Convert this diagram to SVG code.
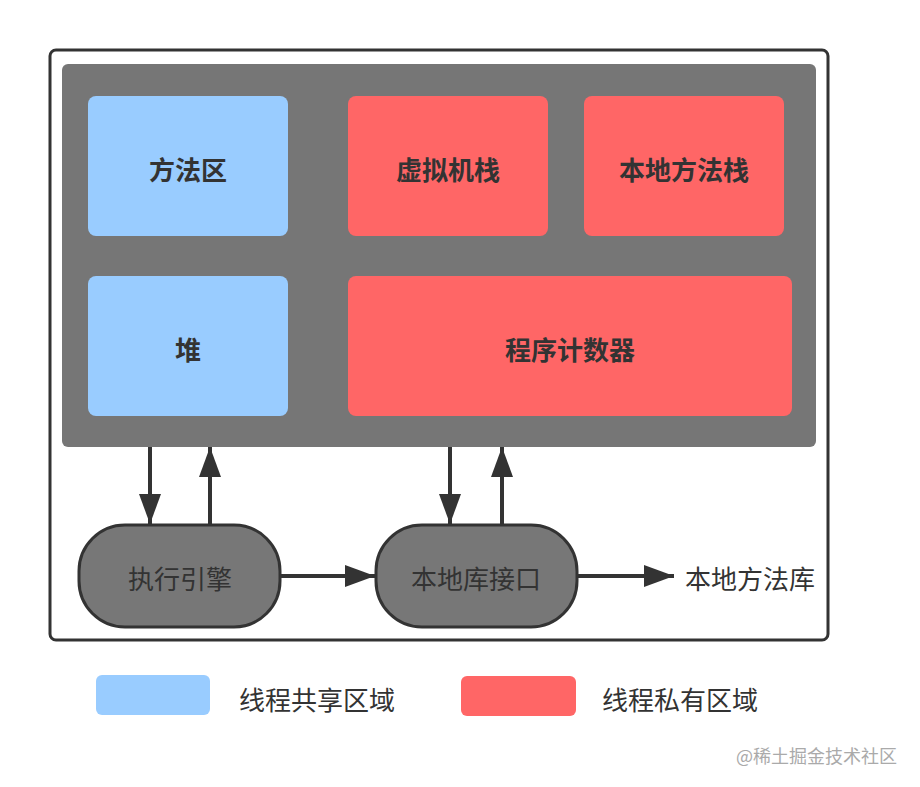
<svg xmlns="http://www.w3.org/2000/svg" width="920" height="787" viewBox="0 0 920 787">
<style>
.blue{fill:#99CCFF;}
.red{fill:#FF6666;}
.bt{font-family:"Noto Sans CJK SC","Noto Sans",sans-serif;font-weight:bold;font-size:26px;fill:#333;text-anchor:middle;dominant-baseline:central;}
.nt{font-family:"Noto Sans CJK SC","Noto Sans",sans-serif;font-size:26px;fill:#333;dominant-baseline:central;}
.pill{fill:#777;stroke:#333;stroke-width:3;}
.ln{stroke:#333;stroke-width:4;fill:none;}
</style>
<defs>
<marker id="a" viewBox="0 0 30 22" refX="30" refY="11" markerWidth="30" markerHeight="22" markerUnits="userSpaceOnUse" orient="auto">
<path d="M0,0 L30,11 L0,22 Z" fill="#333"/>
</marker>
</defs>
<rect width="920" height="787" fill="#fff"/>
<g id="frame">
<rect x="50" y="50" width="778" height="590" rx="6" fill="#fff" stroke="#333" stroke-width="3"/>
<rect x="62" y="64" width="754" height="383" rx="6" fill="#767676"/>
</g>
<g id="method-area"><rect class="blue" x="88" y="96" width="200" height="140" rx="8"/><text class="bt" x="188" y="168">方法区</text></g>
<g id="vm-stack"><rect class="red" x="348" y="96" width="200" height="140" rx="8"/><text class="bt" x="448" y="168">虚拟机栈</text></g>
<g id="native-stack"><rect class="red" x="584" y="96" width="200" height="140" rx="8"/><text class="bt" x="684" y="168">本地方法栈</text></g>
<g id="heap"><rect class="blue" x="88" y="276" width="200" height="140" rx="8"/><text class="bt" x="188" y="348">堆</text></g>
<g id="pc"><rect class="red" x="348" y="276" width="444" height="140" rx="8"/><text class="bt" x="570" y="348">程序计数器</text></g>
<g id="engine"><rect class="pill" x="79" y="525" width="201" height="102" rx="46"/><text class="nt" x="180" y="577" text-anchor="middle">执行引擎</text></g>
<g id="native-if"><rect class="pill" x="376" y="525" width="201" height="102" rx="46"/><text class="nt" x="476" y="577" text-anchor="middle">本地库接口</text></g>
<g id="native-lib"><text class="nt" x="685" y="577">本地方法库</text></g>
<g id="connectors">
<line class="ln" x1="150" y1="447" x2="150" y2="524" marker-end="url(#a)"/>
<line class="ln" x1="210" y1="524" x2="210" y2="447" marker-end="url(#a)"/>
<line class="ln" x1="450" y1="447" x2="450" y2="524" marker-end="url(#a)"/>
<line class="ln" x1="502" y1="524" x2="502" y2="447" marker-end="url(#a)"/>
<line class="ln" x1="280" y1="576" x2="375" y2="576" marker-end="url(#a)"/>
<line class="ln" x1="577" y1="576" x2="674" y2="576" marker-end="url(#a)"/>
</g>
<g id="legend">
<rect class="blue" x="96" y="675" width="114" height="40" rx="6"/>
<text class="nt" x="239" y="698">线程共享区域</text>
<rect class="red" x="461" y="676" width="115" height="40" rx="6"/>
<text class="nt" x="602" y="698">线程私有区域</text>
</g>
<text x="897" y="755" text-anchor="end" font-family="Noto Sans CJK SC,sans-serif" font-size="18" fill="#aaa" dominant-baseline="central">@稀土掘金技术社区</text>
</svg>
